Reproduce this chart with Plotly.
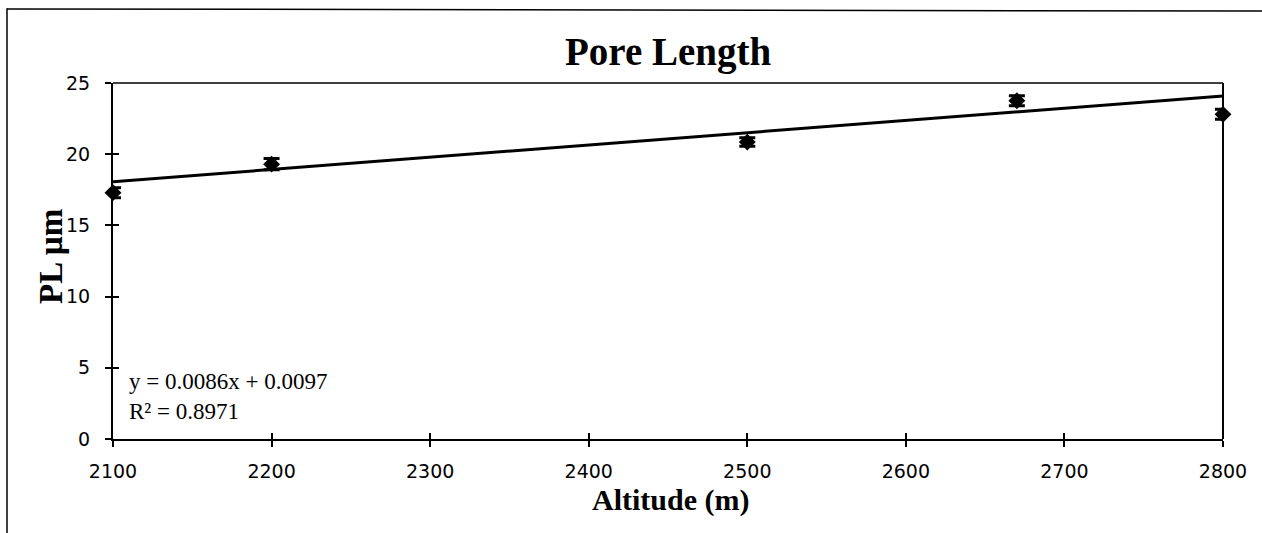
import plotly.graph_objects as go

# Mean pore length per sampling altitude
altitude = [2100, 2200, 2500, 2670, 2800]
pore_length = [17.3, 19.3, 20.85, 23.75, 22.8]
pore_err = [0.35, 0.4, 0.3, 0.35, 0.35]

# Linear trendline coefficients (as reported on the chart)
slope = 0.0086
intercept = 0.0097
r_squared = 0.8971

x_ticks = [2100, 2200, 2300, 2400, 2500, 2600, 2700, 2800]
y_ticks = [0, 5, 10, 15, 20, 25]

trend_x = [x_ticks[0], x_ticks[-1]]
trend_y = [slope * v + intercept for v in trend_x]

serif = "Liberation Serif, Times New Roman, serif"
sans = "DejaVu Sans, Arial, sans-serif"

fig = go.Figure()

fig.add_trace(go.Scatter(
    x=trend_x, y=trend_y, mode="lines",
    line=dict(color="black", width=3), showlegend=False, hoverinfo="skip",
))

fig.add_trace(go.Scatter(
    x=altitude, y=pore_length, mode="markers", cliponaxis=False,
    marker=dict(symbol="diamond", size=13, color="black"),
    error_y=dict(type="data", array=pore_err, visible=True,
                 color="black", thickness=3, width=8),
    showlegend=False,
))

# Secondary axes overlay, giving tick marks that cross the axis lines
fig.add_trace(go.Scatter(x=[altitude[0]], y=[pore_length[0]], xaxis="x2", yaxis="y2",
                         mode="markers", marker=dict(opacity=0), showlegend=False,
                         hoverinfo="skip"))

axis_font = dict(family=sans, size=19, color="black")

fig.update_layout(
    width=1262, height=533,
    margin=dict(l=113, r=39, t=83, b=94),
    paper_bgcolor="white", plot_bgcolor="white",
    xaxis=dict(range=[2100, 2800], tickvals=x_ticks, ticks="outside", ticklen=6,
               tickwidth=1.5, tickcolor="black", showgrid=False, zeroline=False,
               showline=True, linecolor="black", linewidth=2, mirror=False,
               tickfont=axis_font, ticklabelstandoff=8),
    yaxis=dict(range=[0, 25], tickvals=y_ticks, ticks="outside", ticklen=6,
               tickwidth=1.5, tickcolor="black", showgrid=False, zeroline=False,
               showline=True, linecolor="black", linewidth=2,
               tickfont=axis_font, ticklabelstandoff=11),
    xaxis2=dict(range=[2100, 2800], tickvals=x_ticks, ticks="inside", ticklen=6,
                tickwidth=1.5, tickcolor="black", showticklabels=False,
                showgrid=False, zeroline=False, overlaying="x", side="bottom"),
    yaxis2=dict(range=[0, 25], tickvals=y_ticks, ticks="inside", ticklen=6,
                tickwidth=1.5, tickcolor="black", showticklabels=False,
                showgrid=False, zeroline=False, overlaying="y", side="left"),
    shapes=[
        # top and right edges of the plotting area
        dict(type="line", xref="paper", yref="paper", x0=0, x1=1, y0=1, y1=1,
             line=dict(color="black", width=1.5)),
        dict(type="line", xref="paper", yref="paper", x0=1, x1=1, y0=0, y1=1,
             line=dict(color="black", width=2)),
        # outer chart frame
        dict(type="line", xref="paper", yref="paper", x0=-0.0955, x1=-0.0955, y0=1.21, y1=-0.27,
             line=dict(color="black", width=1.5)),
        dict(type="line", xref="paper", yref="paper", x0=-0.0955, x1=1.06, y0=1.208, y1=1.202,
             line=dict(color="black", width=1.5)),
    ],
    annotations=[
        dict(text="<b>Pore Length</b>", xref="paper", yref="paper", x=0.5, y=1.087,
             xanchor="center", yanchor="middle", showarrow=False,
             font=dict(family=serif, size=39, color="black")),
        dict(text="<b>Altitude (m)</b>", xref="paper", yref="paper", x=0.502, y=-0.17,
             xanchor="center", yanchor="middle", showarrow=False,
             font=dict(family=serif, size=30, color="black")),
        dict(text="<b>PL µm</b>", xref="paper", yref="paper", x=-0.0559, y=0.514,
             xanchor="center", yanchor="middle", showarrow=False, textangle=-90,
             font=dict(family=serif, size=33, color="black")),
        dict(text=f"y = {slope}x + {intercept}<br>R² = {r_squared}",
             xref="paper", yref="paper", x=0.013, y=0.118, xanchor="left", yanchor="middle",
             align="left", showarrow=False,
             font=dict(family=serif, size=23, color="black")),
    ],
)

fig.write_html(
    "out.html",
    config=dict(displayModeBar=False),
    post_script="document.documentElement.style.overflow='hidden';"
                "document.body.style.overflow='hidden';",
)
